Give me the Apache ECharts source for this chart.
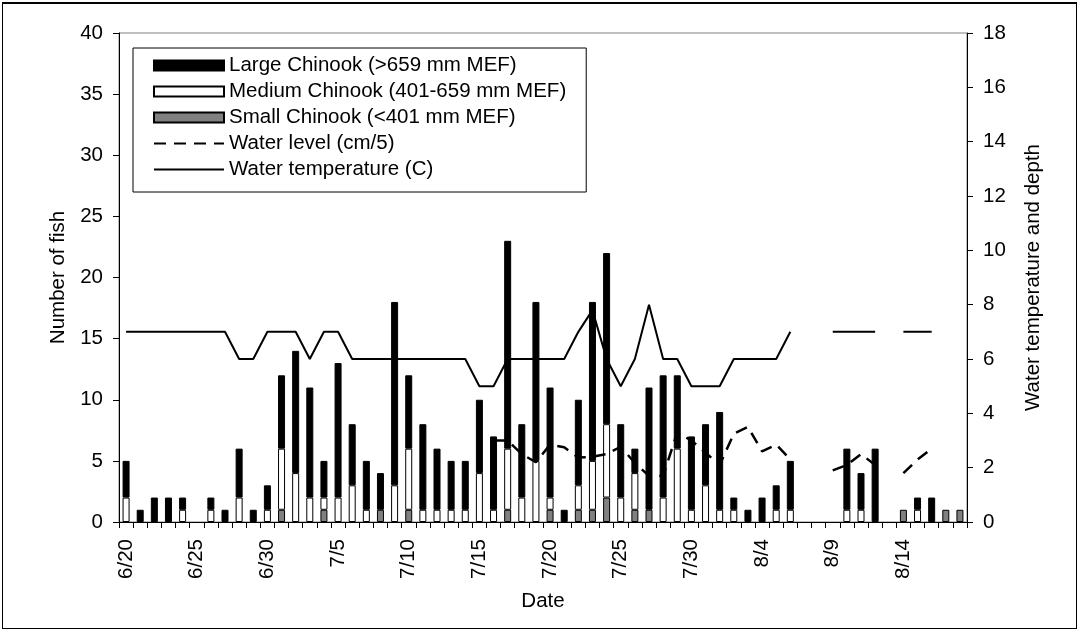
<!DOCTYPE html>
<html>
<head>
<meta charset="utf-8">
<script src="https://cdn.jsdelivr.net/npm/echarts@6/dist/echarts.min.js"></script>
<style>
html,body{margin:0;padding:0;background:#fff;}
#wrap{position:relative;width:1079px;height:630px;}
#chart{position:absolute;left:0;top:0;width:1079px;height:630px;}
#frame{position:absolute;left:2px;top:2px;width:1073px;height:624px;border:1px solid #000;border-top-width:2px;pointer-events:none;}
</style>
</head>
<body>
<div id="wrap"><div id="chart"></div><div id="frame"></div></div>
<script>
const dates = ['6/20','6/21','6/22','6/23','6/24','6/25','6/26','6/27','6/28','6/29','6/30',
  '7/1','7/2','7/3','7/4','7/5','7/6','7/7','7/8','7/9','7/10','7/11','7/12','7/13','7/14','7/15',
  '7/16','7/17','7/18','7/19','7/20','7/21','7/22','7/23','7/24','7/25','7/26','7/27','7/28','7/29','7/30','7/31',
  '8/1','8/2','8/3','8/4','8/5','8/6','8/7','8/8','8/9','8/10','8/11','8/12','8/13','8/14','8/15','8/16','8/17','8/18'];

const largeChinook  = [3,1,2,2,1,0,1,1,4,1,2,6,10,9,3,11,5,4,3,15,6,7,5,4,4,6,6,17,6,13,9,1,7,13,14,6,2,10,10,6,6,5,8,1,1,2,2,4,0,0,0,5,3,6,0,0,1,2,0,0];
const mediumChinook = [2,0,0,0,1,0,1,0,2,0,1,5,4,2,1,2,3,1,0,3,5,1,1,1,1,4,1,5,2,5,1,0,2,4,6,2,3,0,2,6,1,3,1,1,0,0,1,1,0,0,0,1,1,0,0,0,1,0,0,0];
const smallChinook  = [0,0,0,0,0,0,0,0,0,0,0,1,0,0,1,0,0,0,1,0,1,0,0,0,0,0,0,1,0,0,1,0,1,1,2,0,1,1,0,0,0,0,0,0,0,0,0,0,0,0,0,0,0,0,0,1,0,0,1,1];

const waterTemp = [7,7,7,7,7,7,7,7, 6,6, 7,7,7, 6, 7,7, 6,6,6,6,6,6,6,6,6, 5,5, 6,6,6,6,6, 7, 7.8, 6, 5, 6, 8, 6,6, 5,5,5, 6,6,6,6, 7, null,null, 7,7,7,7, null, 7,7,7, null,null];
const waterLevel = [null,null,null,null,null,null,null,null,null,null,null,null,null,null,null,null,null,null,null,null,null,null,null,null,null,null,
  3.0,3.0,2.5,2.2,2.85,2.75,2.37,2.4,2.5,2.77,2.17,1.7,1.7,3.3,3.0,2.55,2.1,3.25,3.5,2.6,2.85,2.3,
  null,null, 1.9,2.1,2.5,2.1, null, 1.8,2.3,2.7, null,null];

const leftTicks = {min:0, max:40, interval:5};
const rightTicks = {min:0, max:18, interval:2};

const names = {
  large:'Large Chinook (>659 mm MEF)',
  medium:'Medium Chinook (401-659 mm MEF)',
  small:'Small Chinook (<401 mm MEF)',
  level:'Water level (cm/5)',
  temp:'Water temperature (C)'
};

const FONT = 'Liberation Sans, Arial, Helvetica, sans-serif';
const FS = 20.5;
const nz = a => a.map(v => v === 0 ? null : v);

const chart = echarts.init(document.getElementById('chart'), null, {renderer:'canvas'});
const barCommon = {type:'bar', stack:'fish', barWidth:7, yAxisIndex:0, xAxisIndex:0};
chart.setOption({
  animation:false,
  backgroundColor:'#fff',
  textStyle:{fontFamily:FONT, color:'#000'},
  grid:{left:119, right:112, top:33, bottom:108, show:true, borderColor:'#808080', borderWidth:1},
  legend:{
    orient:'vertical', left:133, top:48,
    itemWidth:70, itemHeight:10, itemGap:5,
    padding:[7,20,12,20],
    borderColor:'#000', borderWidth:1,
    textStyle:{fontSize:FS, color:'#000', fontFamily:FONT, lineHeight:20},
    data:[
      {name:names.large, icon:'rect'},
      {name:names.medium, icon:'rect'},
      {name:names.small, icon:'rect'},
      {name:names.level, itemStyle:{opacity:0}},
      {name:names.temp, itemStyle:{opacity:0}}
    ]
  },
  xAxis:{
    type:'category', data:dates,
    name:'Date', nameLocation:'middle', nameGap:69,
    nameTextStyle:{fontSize:FS, color:'#000', fontFamily:FONT},
    axisLine:{show:true, onZero:false, lineStyle:{color:'#000', width:1}},
    axisTick:{show:true, interval:0, length:6, alignWithLabel:false, lineStyle:{color:'#000'}},
    axisLabel:{interval:4, rotate:90, margin:17, fontSize:FS, color:'#000', fontFamily:FONT},
    splitLine:{show:false}
  },
  yAxis:[{
    type:'value', position:'left', min:leftTicks.min, max:leftTicks.max, interval:leftTicks.interval,
    name:'Number of fish', nameLocation:'middle', nameGap:38, nameRotate:90,
    nameTextStyle:{fontSize:FS, color:'#000', fontFamily:FONT},
    axisLine:{show:true, lineStyle:{color:'#000', width:1}},
    axisTick:{show:true, length:6, lineStyle:{color:'#000'}},
    axisLabel:{margin:16, fontSize:FS, color:'#000', fontFamily:FONT},
    splitLine:{show:false}
  },{
    type:'value', position:'right', min:rightTicks.min, max:rightTicks.max, interval:rightTicks.interval,
    name:'Water temperature and depth', nameLocation:'middle', nameGap:56, nameRotate:90,
    nameTextStyle:{fontSize:FS, color:'#000', fontFamily:FONT},
    axisLine:{show:true, lineStyle:{color:'#000', width:1}},
    axisTick:{show:true, length:6, lineStyle:{color:'#000'}},
    axisLabel:{margin:16, fontSize:FS, color:'#000', fontFamily:FONT},
    splitLine:{show:false}
  }],
  series:[
    Object.assign({}, barCommon, {name:names.small, data:nz(smallChinook),
      itemStyle:{color:'#808080', borderColor:'#000', borderWidth:1}}),
    Object.assign({}, barCommon, {name:names.medium, data:nz(mediumChinook),
      itemStyle:{color:'#ffffff', borderColor:'#000', borderWidth:1}}),
    Object.assign({}, barCommon, {name:names.large, data:nz(largeChinook),
      itemStyle:{color:'#000000', borderColor:'#000', borderWidth:1}}),
    {type:'line', name:names.level, yAxisIndex:1, data:waterLevel, symbol:'none', showSymbol:false,
      connectNulls:false, lineStyle:{color:'#000', width:2.5, type:[12,8]}, itemStyle:{color:'#000'}},
    {type:'line', name:names.temp, yAxisIndex:1, data:waterTemp, symbol:'none', showSymbol:false,
      connectNulls:false, lineStyle:{color:'#000', width:2, type:'solid'}, itemStyle:{color:'#000'}}
  ]
});
</script>
</body>
</html>
